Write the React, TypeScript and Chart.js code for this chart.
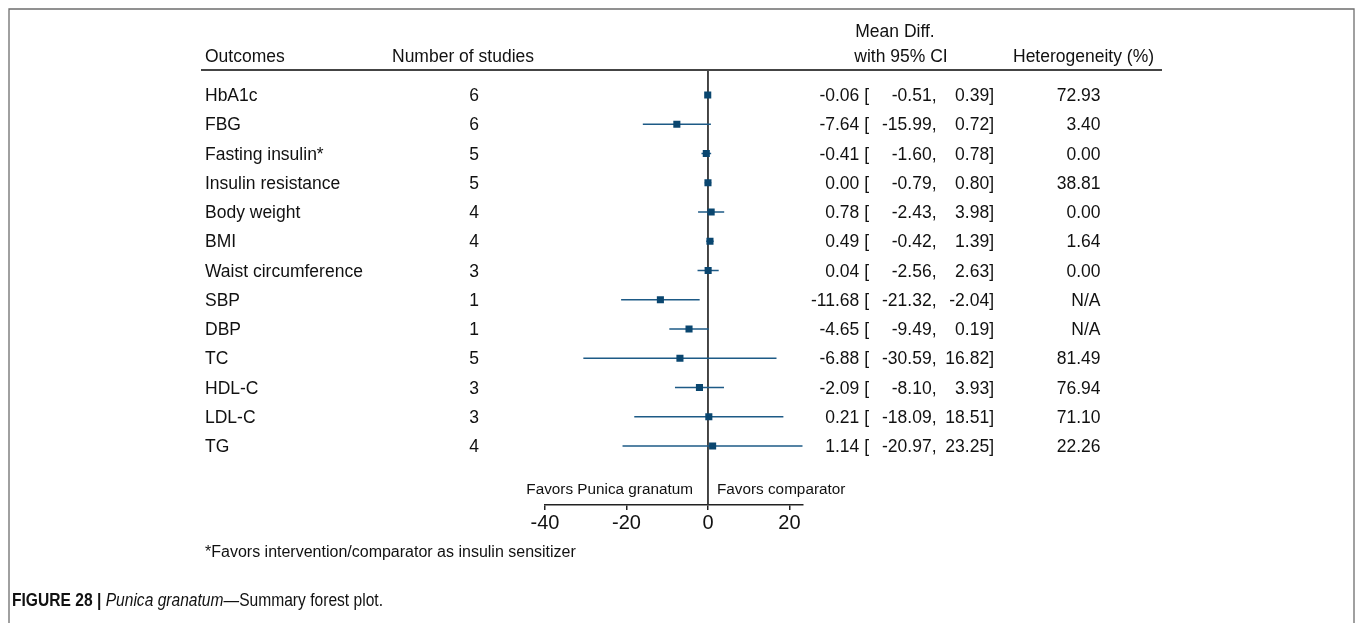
import React, { useEffect, useRef } from "react";
import { Chart, registerables } from "chart.js";

Chart.register(...registerables);

const outcomes = [
  "HbA1c", "FBG", "Fasting insulin*", "Insulin resistance", "Body weight", "BMI",
  "Waist circumference", "SBP", "DBP", "TC", "HDL-C", "LDL-C", "TG",
];
const studies = [6, 6, 5, 5, 4, 4, 3, 1, 1, 5, 3, 3, 4];
const meanDiff = [-0.06, -7.64, -0.41, 0.0, 0.78, 0.49, 0.04, -11.68, -4.65, -6.88, -2.09, 0.21, 1.14];
const ciLow = [-0.51, -15.99, -1.6, -0.79, -2.43, -0.42, -2.56, -21.32, -9.49, -30.59, -8.1, -18.09, -20.97];
const ciHigh = [0.39, 0.72, 0.78, 0.8, 3.98, 1.39, 2.63, -2.04, 0.19, 16.82, 3.93, 18.51, 23.25];
const heterogeneity: (number | null)[] = [72.93, 3.4, 0.0, 38.81, 0.0, 1.64, 0.0, null, null, 81.49, 76.94, 71.1, 22.26];
const xTicks = [-40, -20, 0, 20];

const FONT = "'Liberation Sans', Arial, Helvetica, sans-serif";
const W = 1357;
const H = 623;

export default function App() {
  const ref = useRef<HTMLCanvasElement | null>(null);

  useEffect(() => {
    document.body.style.margin = "0";
    const canvas = ref.current;
    if (!canvas) return;

    const fmt = (v: number) => v.toFixed(2);

    const textPlugin = {
      id: "forestText",
      beforeDatasetsDraw(chart: any) {
        const { ctx, scales } = chart;
        const x0 = scales.x.getPixelForValue(0);
        ctx.save();
        ctx.strokeStyle = "#333";
        ctx.lineWidth = 1.8;
        ctx.beginPath();
        ctx.moveTo(x0, chart.chartArea.top);
        ctx.lineTo(x0, chart.chartArea.bottom);
        ctx.stroke();
        ctx.restore();
      },
      afterDraw(chart: any) {
        const { ctx, scales } = chart;
        const ys = scales.y;
        ctx.save();
        // border frame
        ctx.strokeStyle = "#6e6e6e";
        ctx.lineWidth = 1.3;
        ctx.beginPath();
        ctx.moveTo(9, H);
        ctx.lineTo(9, 9);
        ctx.lineTo(1354, 9);
        ctx.lineTo(1354, H);
        ctx.stroke();

        // header rule
        ctx.strokeStyle = "#444";
        ctx.lineWidth = 2;
        ctx.beginPath();
        ctx.moveTo(201, 70);
        ctx.lineTo(1162, 70);
        ctx.stroke();

        ctx.fillStyle = "#111";
        ctx.textBaseline = "alphabetic";
        ctx.font = `17.5px ${FONT}`;
        ctx.textAlign = "left";
        ctx.fillText("Outcomes", 205, 61.5);
        ctx.fillText("Number of studies", 392, 61.5);
        ctx.fillText("Heterogeneity (%)", 1013, 61.5);
        ctx.textAlign = "center";
        ctx.fillText("Mean Diff.", 895, 37);
        ctx.fillText("with 95% CI", 901, 61.5);

        outcomes.forEach((name, i) => {
          const y = ys.getPixelForValue(i) + 6;
          ctx.textAlign = "left";
          ctx.fillText(name, 205, y);
          ctx.textAlign = "center";
          ctx.fillText(String(studies[i]), 474, y);
          ctx.textAlign = "right";
          ctx.fillText(`${fmt(meanDiff[i])} [`, 869, y);
          ctx.fillText(`${fmt(ciLow[i])},`, 936.5, y);
          ctx.fillText(`${fmt(ciHigh[i])}]`, 994, y);
          const h = heterogeneity[i];
          ctx.fillText(h === null ? "N/A" : fmt(h), 1100.5, y);
        });

        // favors labels
        const x0 = scales.x.getPixelForValue(0);
        ctx.font = `15.3px ${FONT}`;
        ctx.textAlign = "right";
        ctx.fillText("Favors Punica granatum", x0 - 15, 493.5);
        ctx.textAlign = "left";
        ctx.fillText("Favors comparator", x0 + 9, 493.5);

        // footnote
        ctx.font = `16px ${FONT}`;
        ctx.fillText("*Favors intervention/comparator as insulin sensitizer", 205, 556.5);

        // caption (condensed)
        const parts = [
          { t: "FIGURE 28 | ", f: `bold 18px ${FONT}` },
          { t: "Punica granatum", f: `italic 18px ${FONT}` },
          { t: "\u2014Summary forest plot.", f: `18px ${FONT}` },
        ];
        let total = 0;
        const widths = parts.map((p) => {
          ctx.font = p.f;
          const w = ctx.measureText(p.t).width;
          total += w;
          return w;
        });
        const sx = 371 / total;
        ctx.translate(12, 606);
        ctx.scale(sx, 1);
        let cx = 0;
        parts.forEach((p, i) => {
          ctx.font = p.f;
          ctx.fillStyle = "#111";
          ctx.fillText(p.t, cx, 0);
          cx += widths[i];
        });
        ctx.restore();
      },
    };

    const ciDatasets = outcomes.map((_, i) => ({
      type: "line" as const,
      label: `ci${i}`,
      data: [
        { x: ciLow[i], y: i },
        { x: ciHigh[i], y: i },
      ],
      borderColor: "#1d5a86",
      borderWidth: 1.6,
      pointRadius: 0,
      showLine: true,
      order: 1,
    }));

    const chart = new Chart(canvas, {
      type: "scatter",
      data: {
        datasets: [
          {
            label: "Mean Diff.",
            data: meanDiff.map((v, i) => ({ x: v, y: i })),
            pointStyle: "rect",
            pointRadius: 5,
            pointBorderWidth: 0,
            backgroundColor: "#0a466f",
            borderColor: "#0a466f",
            order: 0,
          },
          ...ciDatasets,
        ] as any,
      },
      options: {
        responsive: false,
        animation: false,
        events: [],
        layout: { padding: { left: 545, right: 554.3, top: 70, bottom: 78 } },
        plugins: { legend: { display: false }, tooltip: { enabled: false }, title: { display: false } },
        scales: {
          x: {
            type: "linear",
            min: -40,
            max: 23.25,
            position: "bottom",
            afterBuildTicks: (scale: any) => {
              scale.ticks = xTicks.map((v) => ({ value: v }));
            },
            afterFit: (scale: any) => {
              scale.height = 40;
            },
            ticks: {
              font: { family: FONT, size: 20 },
              color: "#111",
              padding: 1,
              maxRotation: 0,
              autoSkip: false,
            },
            grid: {
              drawOnChartArea: false,
              drawTicks: true,
              tickLength: 5,
              color: "#222",
              lineWidth: 1.5,
            },
            border: { display: true, color: "#222", width: 1.5 },
          },
          y: {
            type: "linear",
            min: -0.855,
            max: 14.017,
            reverse: true,
            display: false,
          },
        },
      } as any,
      plugins: [textPlugin],
    });

    return () => chart.destroy();
  }, []);

  return <canvas ref={ref} width={W} height={H} style={{ display: "block", width: W, height: H }} />;
}
